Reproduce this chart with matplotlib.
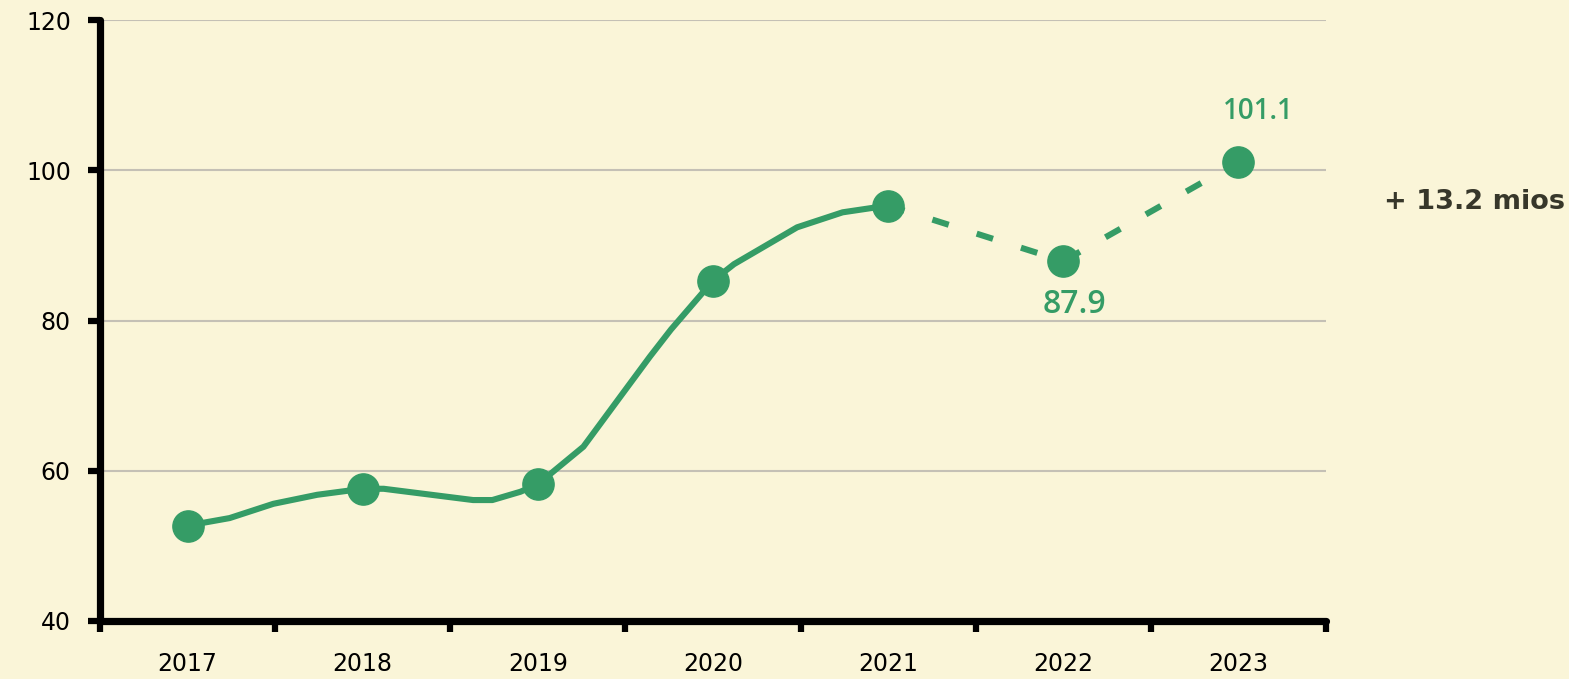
#!/usr/bin/env python3

import matplotlib
matplotlib.use('Agg')
import matplotlib.pyplot as plt
import numpy as np

# data
years = ['2017', '2018', '2019', '2020', '2021', '2022', '2023']
values = [52.7, 57.6, 58.2, 85.3, 95.3, 87.9, 101.1]

# traced vertices of the smoothed solid line (2017 -> 2021)
path_x = [0, 0.24, 0.49, 0.74, 1, 1.12, 1.63, 1.74, 1.9, 2,
          2.26, 2.51, 2.64, 2.76, 3, 3.12, 3.48, 3.74, 4]
path_y = [52.7, 53.7, 55.6, 56.8, 57.6, 57.6, 56.1, 56.1, 57.2, 58.2,
          63.2, 71.1, 75.2, 78.8, 85.3, 87.5, 92.4, 94.4, 95.3]

# 2021 -> 2023 is drawn dashed
dash_idx = [4, 5, 6]
y_ticks = [40, 60, 80, 100, 120]

green = '#359C66'
bg = '#FAF5D8'
dark = '#37372A'

fig = plt.figure(figsize=(15.69, 6.79), dpi=100, facecolor=bg)
ax = fig.add_axes([100 / 1569, 58 / 679, 1226 / 1569, 601 / 679])
ax.set_facecolor(bg)

ax.set_xlim(-0.5, len(years) - 0.5)
ax.set_ylim(40, 120)

# grid
ax.set_yticks(y_ticks)
ax.yaxis.grid(True, color='#C4C0B5', lw=1.5, zorder=0)
ax.set_axisbelow(True)

# spines
ax.spines['right'].set_color('none'), ax.spines['top'].set_color('none')
for s in ['left', 'bottom']:
    ax.spines[s].set_linewidth(5.2)
    ax.spines[s].set_color('black')
    ax.spines[s].set_capstyle('round')

# ticks: labels at year centres, marks at the boundaries
x = np.arange(len(years))
ax.set_xticks(x)
ax.set_xticklabels(years)
ax.set_xticks(np.arange(-0.5, len(years), 1), minor=True)
ax.tick_params(axis='x', which='major', length=0, pad=22, labelsize=17)
ax.tick_params(axis='x', which='minor', length=8, width=4.5, color='black')
ax.tick_params(axis='y', length=9, width=4.5, pad=12, labelsize=17)
for lab in ax.get_xticklabels() + ax.get_yticklabels():
    lab.set_color('black')

# solid part
ax.plot(path_x, path_y, color=green, lw=4.4, solid_joinstyle='round',
        solid_capstyle='round', zorder=3)
# dashed part
ax.plot([x[i] for i in dash_idx], [values[i] for i in dash_idx], color=green,
        lw=4.4, dashes=(2.8, 4.8), dash_capstyle='butt', zorder=3)
# markers
ax.plot(x, values, ls='', marker='o', ms=22.5, color=green, mec=green, zorder=4)

# value labels
lab_font = ['Open Sans', 'DejaVu Sans']
ax.annotate(f'{values[6]:.1f}', (x[6], values[6]), xytext=(14, 36),
            textcoords='offset points', ha='center', va='center',
            color=green, fontsize=20, fontweight='semibold', family=lab_font)
ax.annotate(f'{values[5]:.1f}', (x[5], values[5]), xytext=(8, -31),
            textcoords='offset points', ha='center', va='center',
            color=green, fontsize=23, fontweight='semibold', family=lab_font)

# difference note on the right
ax.text(6.83, 95.8, f'+ {values[6] - values[5]:.1f} mios', ha='left', va='center',
        color=dark, fontsize=19.5, fontweight='bold', clip_on=False)

plt.savefig('out.png', dpi=100, facecolor=bg)
